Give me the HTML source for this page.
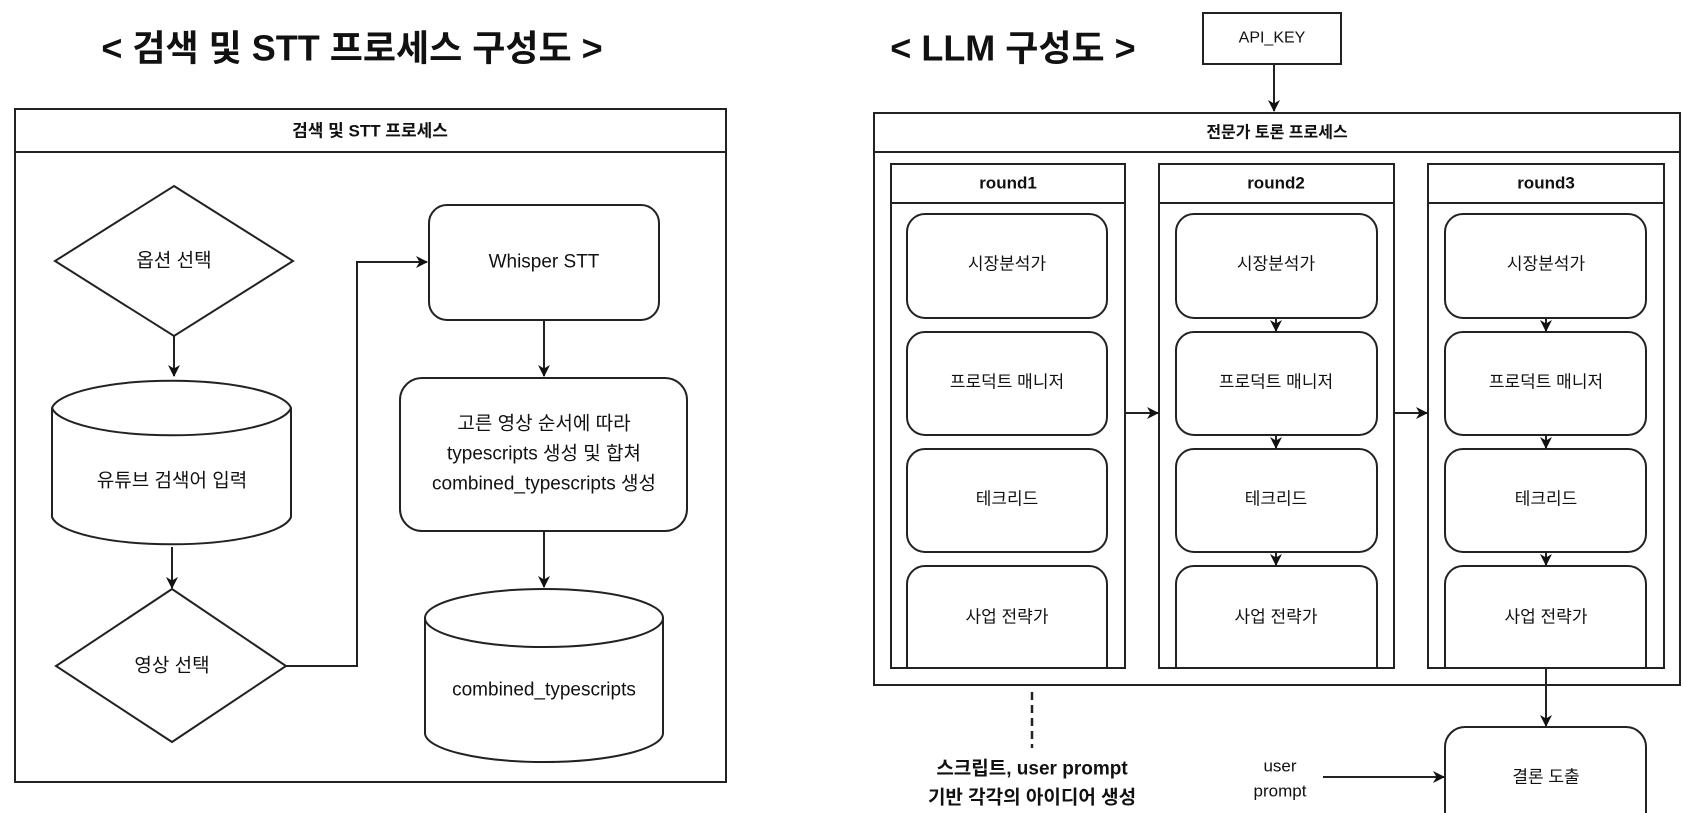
<!DOCTYPE html>
<html><head><meta charset="utf-8"><style>
html,body{margin:0;padding:0;background:#fff;}
svg{display:block;}
text{font-family:"Liberation Sans","Noto Sans CJK KR",sans-serif;fill:#111;}
</style></head><body>
<svg width="1683" height="813" viewBox="0 0 1683 813" xmlns="http://www.w3.org/2000/svg">
<defs>
<marker id="a" markerWidth="12" markerHeight="12" refX="11" refY="6" orient="auto" markerUnits="userSpaceOnUse">
<path d="M0,0 L12,6 L0,12 L3.5,6 z" fill="#111"/></marker>
</defs>
<g stroke="#222" stroke-width="2" fill="none">
<!-- left panel -->
<rect x="15" y="109" width="711" height="673" fill="#fff"/>
<line x1="15" y1="152" x2="726" y2="152"/>
<polygon points="174,186 293,261 174,336 55,261" fill="#fff"/>
<line x1="174" y1="336" x2="174" y2="376" marker-end="url(#a)"/>
<path d="M52,408 L52,517 A120,30 0 0 0 291,517 L291,408 A120,30 0 0 0 52,408 A120,30 0 0 0 291,408" fill="#fff"/>
<line x1="172" y1="547" x2="172" y2="588" marker-end="url(#a)"/>
<polygon points="172,589 286,666 172,742 56,666" fill="#fff"/>
<path d="M286,666 L357,666 L357,262 L427,262" marker-end="url(#a)"/>
<rect x="429" y="205" width="230" height="115" rx="18" fill="#fff"/>
<line x1="544" y1="320" x2="544" y2="376" marker-end="url(#a)"/>
<rect x="400" y="378" width="287" height="153" rx="22" fill="#fff"/>
<line x1="544" y1="531" x2="544" y2="587" marker-end="url(#a)"/>
<path d="M425,618 L425,733 A119,29 0 0 0 663,733 L663,618 A119,29 0 0 0 425,618 A119,29 0 0 0 663,618" fill="#fff"/>
<!-- right panel -->
<rect x="1203" y="13" width="138" height="51" fill="#fff"/>
<line x1="1274" y1="64" x2="1274" y2="111" marker-end="url(#a)"/>
<rect x="874" y="113" width="806" height="572" fill="#fff"/>
<line x1="874" y1="152" x2="1680" y2="152"/>
<rect x="891" y="164" width="234" height="504"/>
<line x1="891" y1="203" x2="1125" y2="203"/>
<rect x="1159" y="164" width="235" height="504"/>
<line x1="1159" y1="203" x2="1394" y2="203"/>
<rect x="1428" y="164" width="236" height="504"/>
<line x1="1428" y1="203" x2="1664" y2="203"/>
<rect x="907" y="214" width="200" height="104" rx="18"/>
<rect x="907" y="332" width="200" height="103" rx="18"/>
<rect x="907" y="449" width="200" height="103" rx="18"/>
<path d="M907,668 L907,584 A18,18 0 0 1 925,566 L1089,566 A18,18 0 0 1 1107,584 L1107,668"/>
<rect x="1176" y="214" width="201" height="104" rx="18"/>
<rect x="1176" y="332" width="201" height="103" rx="18"/>
<rect x="1176" y="449" width="201" height="103" rx="18"/>
<path d="M1176,668 L1176,584 A18,18 0 0 1 1194,566 L1359,566 A18,18 0 0 1 1377,584 L1377,668"/>
<rect x="1445" y="214" width="201" height="104" rx="18"/>
<rect x="1445" y="332" width="201" height="103" rx="18"/>
<rect x="1445" y="449" width="201" height="103" rx="18"/>
<path d="M1445,668 L1445,584 A18,18 0 0 1 1463,566 L1628,566 A18,18 0 0 1 1646,584 L1646,668"/>
<line x1="1276" y1="318" x2="1276" y2="331" marker-end="url(#a)"/>
<line x1="1276" y1="435" x2="1276" y2="448" marker-end="url(#a)"/>
<line x1="1276" y1="552" x2="1276" y2="565" marker-end="url(#a)"/>
<line x1="1546" y1="318" x2="1546" y2="331" marker-end="url(#a)"/>
<line x1="1546" y1="435" x2="1546" y2="448" marker-end="url(#a)"/>
<line x1="1546" y1="552" x2="1546" y2="565" marker-end="url(#a)"/>
<line x1="1125" y1="413" x2="1158" y2="413" marker-end="url(#a)"/>
<line x1="1394" y1="413" x2="1427" y2="413" marker-end="url(#a)"/>
<line x1="1546" y1="668" x2="1546" y2="726" marker-end="url(#a)"/>
<path d="M1445,815 L1445,747 A20,20 0 0 1 1465,727 L1626,727 A20,20 0 0 1 1646,747 L1646,815"/>
<line x1="1323" y1="777" x2="1444" y2="777" marker-end="url(#a)"/>
<line x1="1032" y1="692" x2="1032" y2="748" stroke-dasharray="8,5" stroke-width="2.5"/>
</g>
<g text-anchor="middle" dominant-baseline="central">
<text x="352" y="48" font-size="36" font-weight="bold">&lt; 검색 및 STT 프로세스 구성도 &gt;</text>
<text x="1013" y="48" font-size="36" font-weight="bold">&lt; LLM 구성도 &gt;</text>
<text x="370" y="131" font-size="17" font-weight="bold">검색 및 STT 프로세스</text>
<text x="174" y="261" font-size="19">옵션 선택</text>
<text x="172" y="481" font-size="19">유튜브 검색어 입력</text>
<text x="172" y="666" font-size="19">영상 선택</text>
<text x="544" y="262" font-size="19">Whisper STT</text>
<text x="544" y="424" font-size="19">고른 영상 순서에 따라</text>
<text x="544" y="454" font-size="19">typescripts 생성 및 합쳐</text>
<text x="544" y="484" font-size="19">combined_typescripts 생성</text>
<text x="544" y="690" font-size="19">combined_typescripts</text>
<text x="1272" y="38" font-size="16">API_KEY</text>
<text x="1277" y="133" font-size="16" font-weight="bold">전문가 토론 프로세스</text>
<text x="1008" y="183" font-size="17" font-weight="bold">round1</text>
<text x="1276" y="183" font-size="17" font-weight="bold">round2</text>
<text x="1546" y="183" font-size="17" font-weight="bold">round3</text>
<g font-size="17">
<text x="1007" y="264">시장분석가</text><text x="1007" y="382">프로덕트 매니저</text><text x="1007" y="499">테크리드</text><text x="1007" y="617">사업 전략가</text>
<text x="1276" y="264">시장분석가</text><text x="1276" y="382">프로덕트 매니저</text><text x="1276" y="499">테크리드</text><text x="1276" y="617">사업 전략가</text>
<text x="1546" y="264">시장분석가</text><text x="1546" y="382">프로덕트 매니저</text><text x="1546" y="499">테크리드</text><text x="1546" y="617">사업 전략가</text>
<text x="1546" y="777">결론 도출</text>
<text x="1280" y="766">user</text><text x="1280" y="791">prompt</text>
</g>
<text x="1032" y="769" font-size="19" font-weight="bold">스크립트, user prompt</text>
<text x="1032" y="798" font-size="19" font-weight="bold">기반 각각의 아이디어 생성</text>
</g>
</svg>
</body></html>
